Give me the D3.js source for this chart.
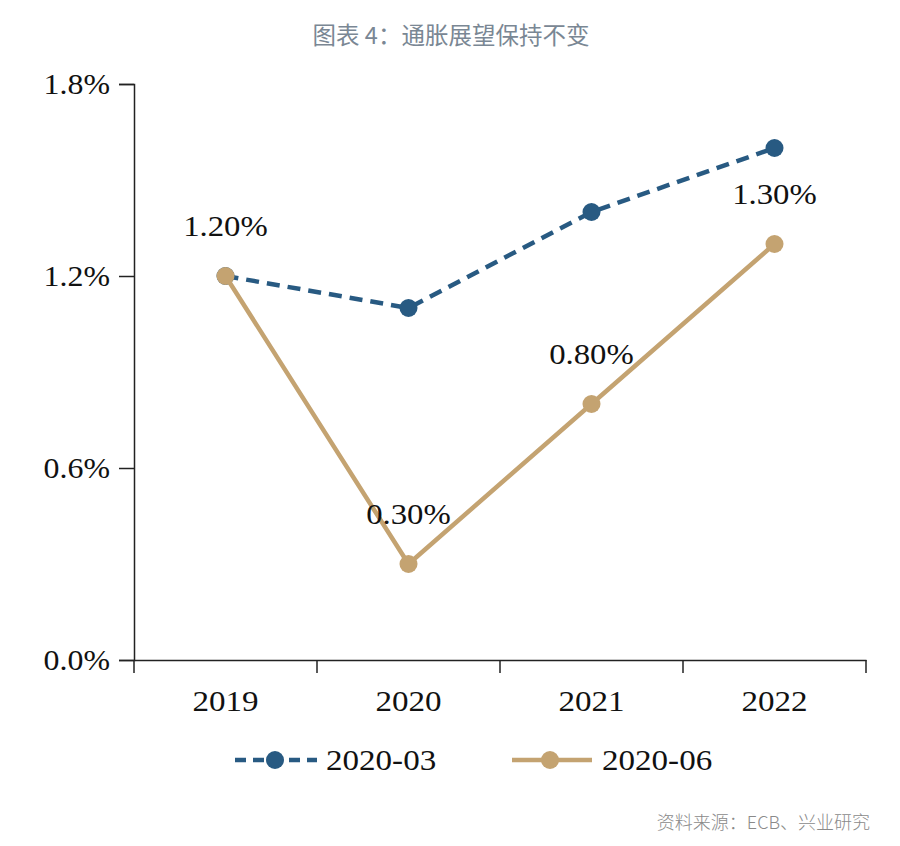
<!DOCTYPE html>
<html>
<head>
<meta charset="utf-8">
<script src="https://cdn.jsdelivr.net/npm/d3@7"></script>
<style>
  body { margin: 0; background: #fff; }
  svg text { font-family: "Liberation Serif", "Times New Roman", serif; }
</style>
</head>
<body>
<svg id="chart"></svg>
<script>
// data
const years = ["2019", "2020", "2021", "2022"];
const march = [1.2, 1.1, 1.4, 1.6];
const june = [1.2, 0.3, 0.8, 1.3];
const juneLabels = ["1.20%", "0.30%", "0.80%", "1.30%"];
const yTicks = [0, 0.6, 1.2, 1.8];
const seriesNames = ["2020-03", "2020-06"];

const width = 900, height = 846;
const margin = { top: 84, right: 34, bottom: 186, left: 134 };

const svg = d3.select("#chart")
    .attr("width", width)
    .attr("height", height);

const blue = "#285a82";
const tan = "#c4a371";
const serifSize = "29px";

// the reference's serif text is drawn a little wide
function stretch(sel, k) {
    sel.each(function () {
        const len = this.getComputedTextLength();
        d3.select(this)
            .attr("textLength", len * k)
            .attr("lengthAdjust", "spacingAndGlyphs");
    });
}

// title
svg.append("text")
    .attr("x", 451)
    .attr("y", 44)
    .attr("text-anchor", "middle")
    .style("font-family", "'Noto Sans CJK SC', sans-serif")
    .style("font-size", "23.5px")
    .attr("fill", "#7a8794")
    .text("图表 4：通胀展望保持不变");

const x = d3.scaleBand()
    .domain(years)
    .range([margin.left, width - margin.right]);

const y = d3.scaleLinear()
    .domain([0, 1.8])
    .range([height - margin.bottom, margin.top]);

const cx = d => x(d) + x.bandwidth() / 2;

// y axis
const yAxis = svg.append("g")
    .attr("transform", `translate(${margin.left},0)`)
    .call(d3.axisLeft(y).tickValues(yTicks).tickSize(15).tickPadding(9)
        .tickFormat(d => d3.format(".1f")(d) + "%"));
yAxis.select(".domain").attr("stroke", "#222").attr("stroke-width", 1.5);
yAxis.selectAll(".tick line").attr("stroke", "#222").attr("stroke-width", 1.5);
yAxis.selectAll("text")
    .style("font-family", "'Liberation Serif', serif")
    .style("font-size", serifSize)
    .attr("fill", "#111")
    .call(stretch, 1.1);

// x axis with ticks on band edges
const xAxis = svg.append("g")
    .attr("transform", `translate(0,${height - margin.bottom})`)
    .call(d3.axisBottom(x).tickSize(0).tickPadding(30));
xAxis.select(".domain").attr("stroke", "#222").attr("stroke-width", 1.5);
xAxis.selectAll("text")
    .style("font-family", "'Liberation Serif', serif")
    .style("font-size", serifSize)
    .attr("fill", "#111")
    .call(stretch, 1.14);

const edges = years.map(d => x(d)).concat([x.range()[1]]);
xAxis.selectAll(".edge")
    .data(edges)
    .enter().append("line")
    .attr("class", "edge")
    .attr("x1", d => d).attr("x2", d => d)
    .attr("y1", 0).attr("y2", 13)
    .attr("stroke", "#222")
    .attr("stroke-width", 1.5);

const line = d3.line()
    .x((d, i) => cx(years[i]))
    .y(d => y(d));

// 2020-03 dashed
svg.append("path")
    .datum(march)
    .attr("d", line)
    .attr("fill", "none")
    .attr("stroke", blue)
    .attr("stroke-width", 4.5)
    .attr("stroke-dasharray", "13,8");

svg.append("g")
    .selectAll("circle")
    .data(march)
    .enter().append("circle")
    .attr("cx", (d, i) => cx(years[i]))
    .attr("cy", d => y(d))
    .attr("r", 9)
    .attr("fill", blue);

// 2020-06 solid
svg.append("path")
    .datum(june)
    .attr("d", line)
    .attr("fill", "none")
    .attr("stroke", tan)
    .attr("stroke-width", 4.5);

svg.append("g")
    .selectAll("circle")
    .data(june)
    .enter().append("circle")
    .attr("cx", (d, i) => cx(years[i]))
    .attr("cy", d => y(d))
    .attr("r", 9)
    .attr("fill", tan);

// data labels on 2020-06
svg.append("g")
    .selectAll("text")
    .data(june)
    .enter().append("text")
    .attr("x", (d, i) => cx(years[i]))
    .attr("y", d => y(d) - 40)
    .attr("text-anchor", "middle")
    .style("font-size", serifSize)
    .attr("fill", "#111")
    .text((d, i) => juneLabels[i])
    .call(stretch, 1.13);

// legend
const legend = svg.append("g").attr("transform", "translate(0,760)");

legend.append("line")
    .attr("x1", 235).attr("x2", 317).attr("y1", 0).attr("y2", 0)
    .attr("stroke", blue).attr("stroke-width", 4.5)
    .attr("stroke-dasharray", "11,7");
legend.append("circle").attr("cx", 275).attr("cy", 0).attr("r", 9).attr("fill", blue);
legend.append("text")
    .attr("x", 326).attr("y", 10)
    .style("font-size", serifSize).attr("fill", "#111")
    .text(seriesNames[0])
    .call(stretch, 1.14);

legend.append("line")
    .attr("x1", 512).attr("x2", 592).attr("y1", 0).attr("y2", 0)
    .attr("stroke", tan).attr("stroke-width", 4.5);
legend.append("circle").attr("cx", 550).attr("cy", 0).attr("r", 9).attr("fill", tan);
legend.append("text")
    .attr("x", 602).attr("y", 10)
    .style("font-size", serifSize).attr("fill", "#111")
    .text(seriesNames[1])
    .call(stretch, 1.14);

// source note
svg.append("text")
    .attr("x", 870)
    .attr("y", 829)
    .attr("text-anchor", "end")
    .style("font-family", "'Noto Sans CJK SC', sans-serif")
    .style("font-size", "18px")
    .style("font-weight", 300)
    .attr("fill", "#8a8a8a")
    .text("资料来源：ECB、兴业研究");
</script>
</body>
</html>
